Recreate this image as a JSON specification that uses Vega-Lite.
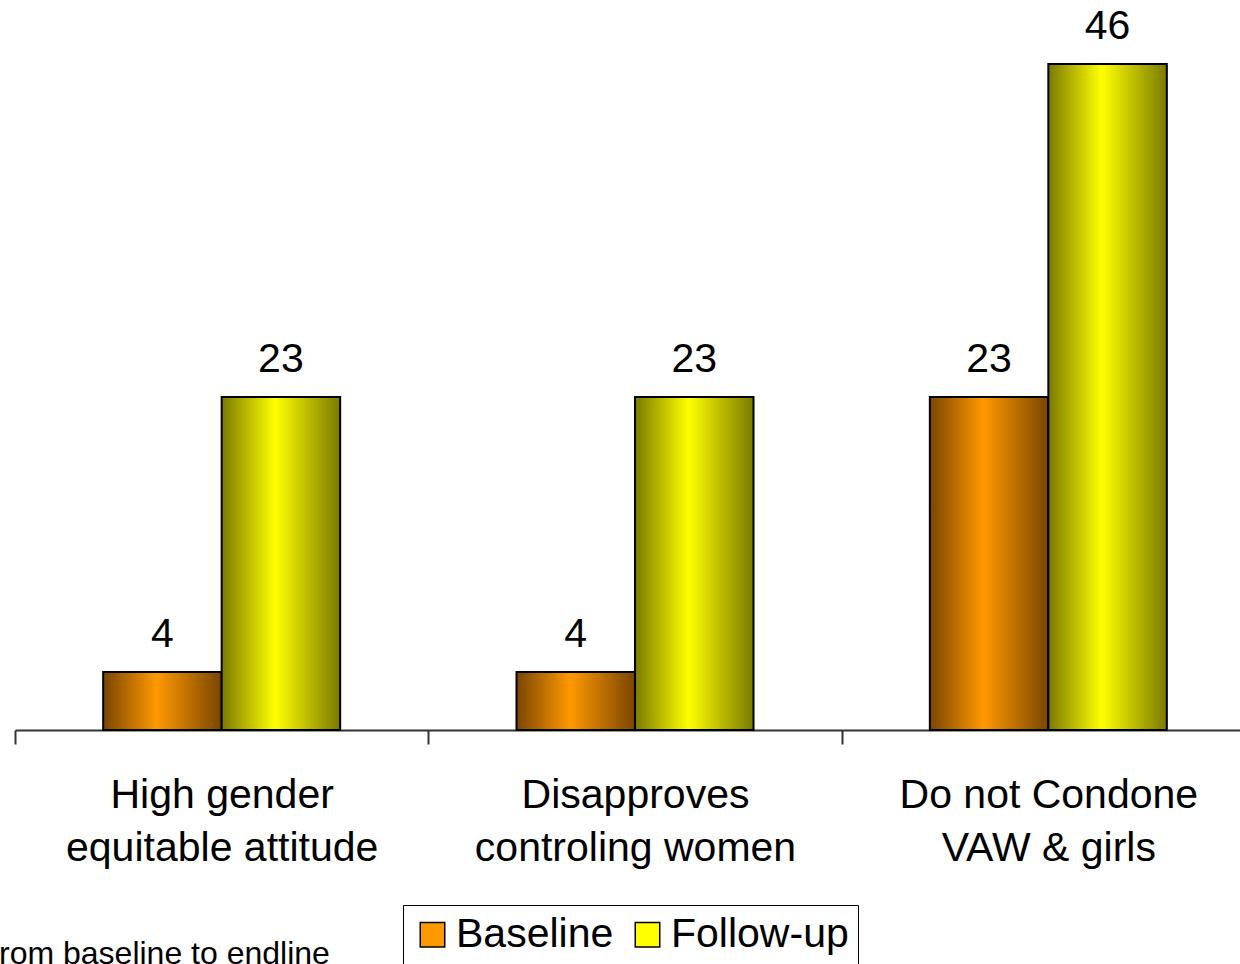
{
  "$schema": "https://vega.github.io/schema/vega-lite/v6.json",
  "width": 1240,
  "height": 724,
  "autosize": "none",
  "padding": {"left": 15, "top": 6, "right": -15, "bottom": 234},
  "background": "white",
  "config": {
    "view": {"stroke": null},
    "font": "Liberation Sans"
  },
  "title": {
    "text": "rom baseline to endline",
    "orient": "bottom",
    "anchor": "start",
    "fontSize": 32,
    "fontWeight": "normal",
    "font": "Liberation Sans",
    "color": "black",
    "baseline": "alphabetic",
    "dx": -15,
    "offset": 0,
    "dy": -1
  },
  "data": {
    "values": [
      {"category": "High gender|equitable attitude", "series": "Baseline", "value": 4},
      {"category": "High gender|equitable attitude", "series": "Follow-up", "value": 23},
      {"category": "Disapproves|controling women", "series": "Baseline", "value": 4},
      {"category": "Disapproves|controling women", "series": "Follow-up", "value": 23},
      {"category": "Do not Condone|VAW & girls", "series": "Baseline", "value": 23},
      {"category": "Do not Condone|VAW & girls", "series": "Follow-up", "value": 46}
    ]
  },
  "encoding": {
    "x": {
      "field": "category",
      "type": "nominal",
      "sort": null,
      "scale": {"paddingInner": 0, "paddingOuter": 0},
      "axis": {
        "title": null,
        "labelAngle": 0,
        "labelExpr": "split(datum.label, '|')",
        "labelFontSize": 41,
        "labelFont": "Liberation Sans",
        "labelColor": "black",
        "labelLineHeight": 53,
        "labelPadding": 31,
        "labelLimit": 0,
        "tickBand": "extent",
        "tickSize": 14,
        "tickWidth": 2,
        "tickColor": "#333",
        "domainColor": "#333",
        "domainWidth": 2,
        "grid": false
      }
    },
    "xOffset": {"field": "series", "type": "nominal", "scale": {"paddingInner": 0, "paddingOuter": 0.744}},
    "y": {
      "field": "value",
      "type": "quantitative",
      "scale": {"domain": [0, 50], "nice": false},
      "axis": null
    }
  },
  "layer": [
    {
      "mark": {"type": "bar", "stroke": "black", "strokeWidth": 2},
      "encoding": {
        "fill": {
          "condition": {
            "test": "datum.series === 'Baseline'",
            "value": {"gradient": "linear", "x1": 0, "y1": 0, "x2": 1, "y2": 0, "stops": [
              {"offset": 0, "color": "#7a4500"},
              {"offset": 0.45, "color": "#ff9900"},
              {"offset": 1, "color": "#7a4500"}
            ]}
          },
          "value": {"gradient": "linear", "x1": 0, "y1": 0, "x2": 1, "y2": 0, "stops": [
            {"offset": 0, "color": "#7a7a00"},
            {"offset": 0.45, "color": "#ffff00"},
            {"offset": 1, "color": "#7a7a00"}
          ]}
        }
      }
    },
    {
      "mark": {"type": "point", "filled": true, "opacity": 0, "shape": "square"},
      "encoding": {
        "color": {
          "field": "series",
          "type": "nominal",
          "scale": {"domain": ["Baseline", "Follow-up"], "range": ["#ff9900", "#ffff00"]},
          "legend": {
            "title": null,
            "orient": "none",
            "legendX": 388,
            "legendY": 899,
            "direction": "horizontal",
            "labelFontSize": 41,
            "labelFont": "Liberation Sans",
            "labelColor": "black",
            "labelLimit": 0,
            "symbolType": "square",
            "symbolSize": 600,
            "symbolOpacity": 1,
            "symbolStrokeColor": "black",
            "symbolStrokeWidth": 1.5,
            "labelOffset": 3,
            "columnPadding": 13,
            "padding": 9,
            "strokeColor": "black",
            "fillColor": "white",
            "encode": {
              "symbols": {
                "update": {
                  "stroke": {"value": "black"},
                  "strokeWidth": {"value": 1.5},
                  "opacity": {"value": 1}
                }
              }
            }
          }
        }
      }
    },
    {
      "mark": {"type": "text", "fontSize": 41, "font": "Liberation Sans", "color": "black", "baseline": "alphabetic", "dy": -25},
      "encoding": {
        "text": {"field": "value", "type": "quantitative"}
      }
    }
  ]
}
